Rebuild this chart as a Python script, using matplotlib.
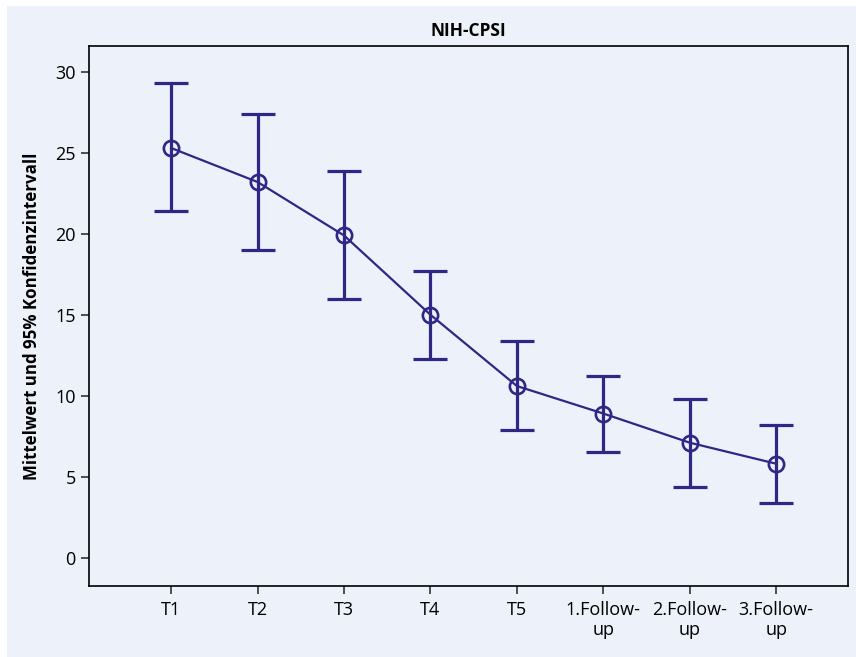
import matplotlib
matplotlib.use("Agg")
from matplotlib import pyplot as plt
from matplotlib.patches import Rectangle

# values
labels = ["T1", "T2", "T3", "T4", "T5", "1.Follow-\nup", "2.Follow-\nup", "3.Follow-\nup"]
means = [25.3, 23.2, 19.9, 15.0, 10.6, 8.9, 7.1, 5.8]
upper = [29.3, 27.4, 23.9, 17.7, 13.4, 11.25, 9.8, 8.2]
lower = [21.4, 19.0, 16.0, 12.3, 7.9, 6.5, 4.35, 3.4]

BG = "#edf1fa"
NAVY = "#2d2886"

plt.rcParams["font.family"] = ["Open Sans", "DejaVu Sans"]

fig = plt.figure(figsize=(8.56, 6.57), dpi=100, facecolor="white")
fig.patches.append(Rectangle((7 / 856, 0), 1, 1 - 6 / 657, transform=fig.transFigure,
                             facecolor=BG, edgecolor="none", zorder=-1))
ax = fig.add_axes([89 / 856, 1 - 586 / 657, (848 - 89) / 856, (586 - 46) / 657])
ax.set_facecolor(BG)

x = list(range(len(labels)))
err_lo = [m - l for m, l in zip(means, lower)]
err_hi = [u - m for m, u in zip(means, upper)]

ax.errorbar(x, means, yerr=[err_lo, err_hi], fmt="none", ecolor=NAVY,
            elinewidth=2.3, capsize=12, capthick=2.3, zorder=2)
ax.plot(x, means, color=NAVY, linewidth=1.6, zorder=3)
ax.plot(x, means, "o", markersize=11, markerfacecolor="none",
        markeredgecolor=NAVY, markeredgewidth=1.9, zorder=4)

ax.set_xlim(-0.95, 7.83)
ax.set_ylim(-1.75, 31.6)
ax.set_yticks([0, 5, 10, 15, 20, 25, 30])
ax.set_xticks(x)
ax.set_xticklabels(labels, linespacing=1.15)
ax.tick_params(axis="both", labelsize=13, length=6, width=1.2, color="#333333")
ax.tick_params(axis="x", pad=5)

for side in ["left", "bottom", "top", "right"]:
    ax.spines[side].set_linewidth(1.2)

ax.set_title("NIH-CPSI", fontsize=12.5, fontweight="bold", pad=7)
ax.set_ylabel("Mittelwert und 95% Konfidenzintervall", fontsize=12.2,
              fontweight="bold", labelpad=10)

plt.savefig("out.png", dpi=100, facecolor=fig.get_facecolor())
